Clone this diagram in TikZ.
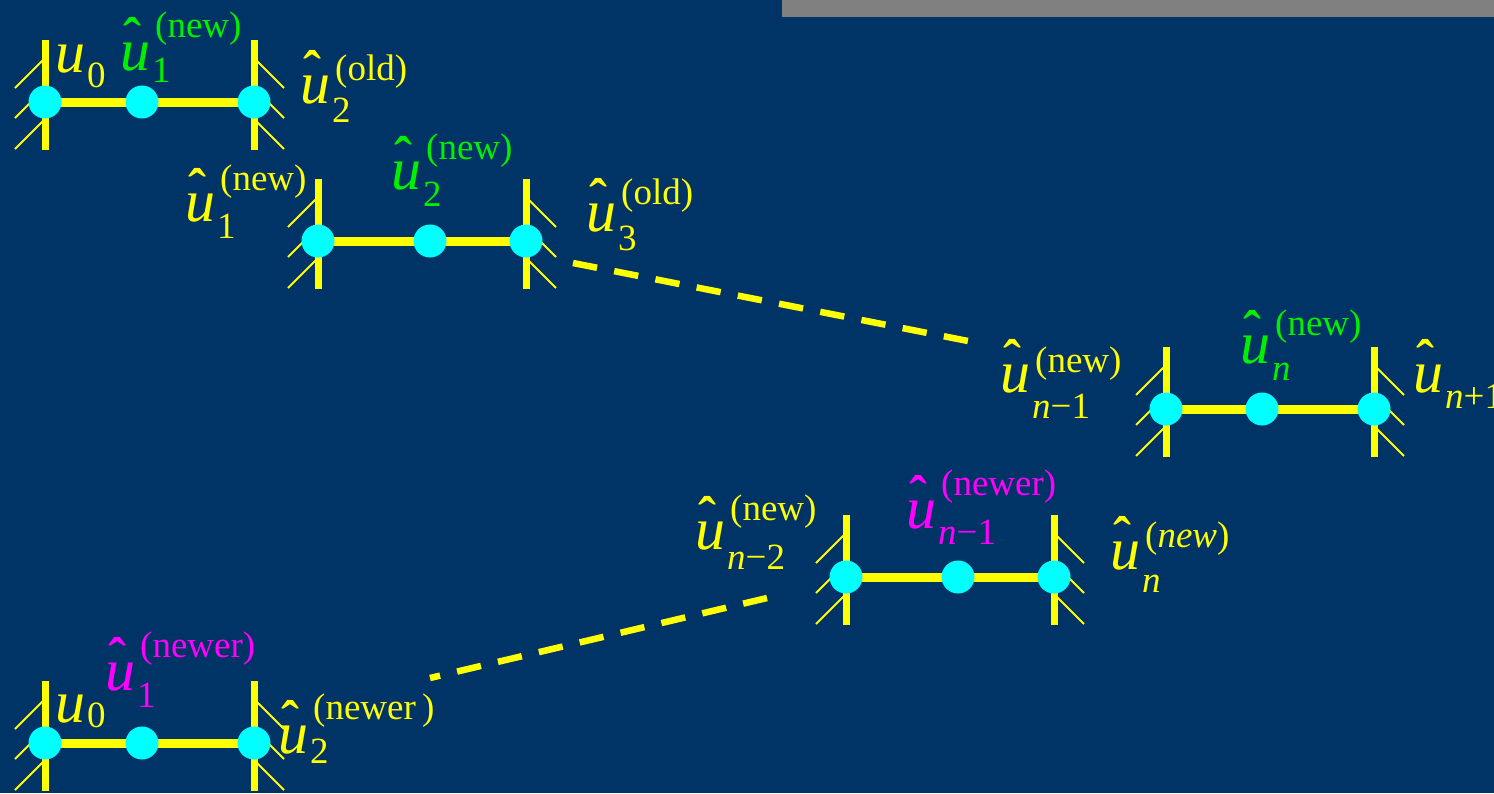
\documentclass[tikz,border=0pt]{standalone}
\usepackage{fontspec}
\setmainfont{Liberation Serif}
\definecolor{bg}{HTML}{003366}
\definecolor{ylw}{HTML}{FFFF00}
\definecolor{cyn}{HTML}{00FFFF}
\definecolor{grn}{HTML}{00F000}
\definecolor{mag}{HTML}{FF00FF}
\definecolor{gbar}{HTML}{808080}
\newcommand\scr{\fontsize{37}{37}\selectfont}
\newcommand\hu{\rlap{\kern3pt\raisebox{15pt}{\fontsize{54}{54}\bfseries\selectfont ˆ}}\textit{u}}
% \lb{sub}{sup}{sub drop}{sup rise}
\newcommand\lb[4]{\hu\rlap{\kern2pt\raisebox{-#3pt}{\scr #1}}\kern5pt\raisebox{#4pt}{\scr #2}}
\newcommand\lu[2]{\textit{u}\kern2pt\raisebox{-#2pt}{\scr #1}}
\tikzset{
  hatch/.style={draw=ylw, line width=2pt},
  wall/.style={draw=ylw, line width=7pt},
  bar/.style={draw=ylw, line width=9pt},
  dot/.style={circle, fill=cyn, minimum size=33pt, inner sep=0pt},
  link/.style={draw=ylw, line width=6.5pt, dash pattern=on 24.5pt off 17.5pt},
  lab/.style={anchor=base west, inner sep=0pt, font=\fontsize{60}{72}\selectfont},
}
\newcommand\chain[5]{%
  \foreach \k in {-44,-14,17}{
    \draw[hatch] (#2,#5+\k) -- ++(-30,30);
    \draw[hatch] (#4,#5+\k) -- ++(30,30);
  }
  \draw[wall] (#2,#5-62) -- (#2,#5+48);
  \draw[wall] (#4,#5-62) -- (#4,#5+48);
  \coordinate (#1l) at (#2,#5);
  \coordinate (#1m) at (#3,#5);
  \coordinate (#1r) at (#4,#5);
  \draw[bar] (#1l) -- (#1m) -- (#1r);
  \node[dot] (#1L) at (#1l) {};
  \node[dot] (#1M) at (#1m) {};
  \node[dot] (#1R) at (#1r) {};
}
\begin{document}
\begin{tikzpicture}[x=1pt, y=-1pt]
\useasboundingbox (0,0) rectangle (1494,793);
\fill[bg] (0,0) rectangle (1494,793);
\clip (0,0) rectangle (1494,793);
\fill[gbar] (782,0) rectangle (1494,17);

\chain{a}{45}{142}{254}{102}
\chain{b}{318}{430}{526}{241}
\chain{c}{1166}{1262}{1374}{409}
\chain{d}{846}{958}{1054}{577}
\chain{e}{45}{142}{254}{743}

% dashed links
\coordinate (bEnd) at (573,263);
\coordinate (cEnd) at (968,341);
\coordinate (dEnd) at (767,598);
\coordinate (eEnd) at (430,678);
\draw[link] (bEnd) -- (cEnd);
\draw[link] (dEnd) -- (eEnd);

% labels chain a
\node[lab, text=ylw] (la1) at (55,72) {\lu{0}{15}};
\node[lab, text=grn] (la2) at (120,70) {\lb{1}{(new)}{12}{33}};
\node[lab, text=ylw] (la3) at (300,103) {\lb{2}{(old)}{19}{23}};
% chain b
\node[lab, text=ylw] (lb1) at (185,221) {\lb{1}{(new)}{17}{31}};
\node[lab, text=grn] (lb2) at (391,189) {\lb{2}{(new)}{17}{30}};
\node[lab, text=ylw] (lb3) at (586,231) {\lb{3}{(old)}{19}{27}};
% chain c
\node[lab, text=ylw] (lc1) at (1000,392) {\lb{\textit{n}−1}{(new)}{26}{20}};
\node[lab, text=grn] (lc2) at (1240,363) {\lb{\textit{n}}{(new)}{17}{28}};
\node[lab, text=ylw] (lc3) at (1413,392) {\lb{\textit{n}+1}{}{16}{0}};
% chain d
\node[lab, text=ylw] (ld1) at (695,549) {\lb{\textit{n}−2}{(new)}{20}{29}};
\node[lab, text=mag] (ld2) at (906,528) {\lb{\textit{n}−1}{(newer)}{16}{33}};
\node[lab, text=ylw] (ld3) at (1110,569) {\lb{\textit{n}}{(\textit{new})}{23}{22}};
% chain e
\node[lab, text=ylw] (le1) at (55,722) {\lu{0}{5}};
\node[lab, text=mag] (le2) at (105,690) {\lb{1}{(newer)}{17}{33}};
\node[lab, text=ylw] (le3) at (278,753) {\lb{2}{(newer\,)}{10}{34}};
\end{tikzpicture}
\end{document}
